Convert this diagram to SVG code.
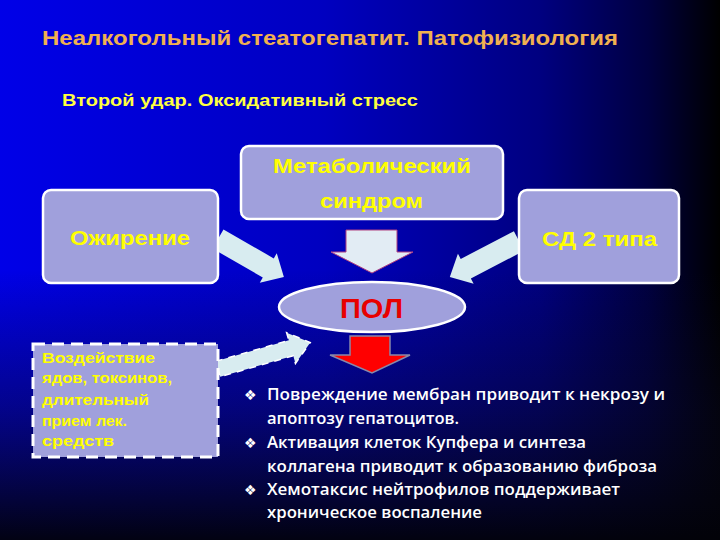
<svg xmlns="http://www.w3.org/2000/svg" width="720" height="540" viewBox="0 0 720 540">
  <defs>
    <linearGradient id="bgH" x1="0" y1="0" x2="1" y2="0">
      <stop offset="0" stop-color="#0000e8"/>
      <stop offset="0.45" stop-color="#0000c0"/>
      <stop offset="0.75" stop-color="#000080"/>
      <stop offset="0.9" stop-color="#000040"/>
      <stop offset="1" stop-color="#000000"/>
    </linearGradient>
    <linearGradient id="bgV" x1="0" y1="0" x2="0" y2="1">
      <stop offset="0" stop-color="#080820" stop-opacity="0"/>
      <stop offset="0.5" stop-color="#080820" stop-opacity="0"/>
      <stop offset="0.75" stop-color="#080820" stop-opacity="0.45"/>
      <stop offset="1" stop-color="#020208" stop-opacity="0.95"/>
    </linearGradient>
    <style>
      .box { fill: #a0a0dc; stroke: #ffffff; stroke-width: 2.5; }
      .lbl { font-family: "Liberation Sans", Arial, sans-serif; font-weight: bold; fill: #ffff00; }
      .arrow { fill: #d8ecf0; }
      .bul { font-family: "Open Sans", "Liberation Sans", sans-serif; font-weight: 600; font-size: 16px; fill: #ffffff; }
      .dia { font-family: "DejaVu Sans", sans-serif; font-size: 14px; fill: #ffffff; }
    </style>
  </defs>

  <rect x="0" y="0" width="720" height="540" fill="url(#bgH)"/>
  <rect x="0" y="0" width="720" height="540" fill="url(#bgV)"/>

  <text x="42" y="45" font-family="Liberation Sans, Arial, sans-serif" font-weight="bold" font-size="21" fill="#f0b050" textLength="576" lengthAdjust="spacingAndGlyphs">Неалкогольный стеатогепатит. Патофизиология</text>
  <text x="62" y="106" font-family="Liberation Sans, Arial, sans-serif" font-weight="bold" font-size="17" fill="#ffff40" textLength="356" lengthAdjust="spacingAndGlyphs">Второй удар. Оксидативный стресс</text>

  <g id="connectors">
    <polygon class="arrow" points="0,-11 58,-11 58,-17 76,0 58,17 58,11 0,11" transform="translate(218,239) rotate(29.9)"/>
    <polygon class="arrow" points="0,-11 60,-11 60,-17 78,0 60,17 60,11 0,11" transform="translate(519,241) rotate(152.5)"/>
    <polygon points="346,230 397,230 397,252 413,252 372,273 331,252 346,252" fill="#e2ecf4" stroke="#b04080" stroke-width="1"/>
    <polygon class="arrow" points="0,-8 76,-8 76,-16 96,0 76,16 76,8 0,8" transform="translate(218,369) rotate(-16)" stroke="#ffffff" stroke-width="1.5" stroke-dasharray="7 6"/>
    <polygon points="350,336 390,336 390,355 410,355 372,373 330,355 350,355" fill="#ff0000" stroke="#8888aa" stroke-width="1.5"/>
  </g>

  <g id="metabolic">
    <rect class="box" x="241" y="146" width="262" height="73" rx="8"/>
    <text class="lbl" x="273" y="173" font-size="20" textLength="198" lengthAdjust="spacingAndGlyphs">Метаболический</text>
    <text class="lbl" x="320" y="208" font-size="20" textLength="103" lengthAdjust="spacingAndGlyphs">синдром</text>
  </g>

  <g id="obesity">
    <rect class="box" x="43" y="190" width="175" height="93" rx="8"/>
    <text class="lbl" x="70" y="245" font-size="20" textLength="120" lengthAdjust="spacingAndGlyphs">Ожирение</text>
  </g>

  <g id="diabetes">
    <rect class="box" x="519" y="190" width="160" height="93" rx="8"/>
    <text class="lbl" x="542" y="246" font-size="20" textLength="115" lengthAdjust="spacingAndGlyphs">СД 2 типа</text>
  </g>

  <g id="pol">
    <ellipse class="box" cx="372" cy="307" rx="93" ry="25"/>
    <text x="340" y="318" font-family="Liberation Sans, Arial, sans-serif" font-weight="bold" font-size="28" fill="#e80000" textLength="63" lengthAdjust="spacingAndGlyphs">ПОЛ</text>
  </g>

  <g id="toxins">
    <rect x="33" y="344" width="185" height="113" fill="#a0a0dc" stroke="#ffffff" stroke-width="3" stroke-dasharray="12 7"/>
    <text class="lbl" x="42" y="363" font-size="15" textLength="113" lengthAdjust="spacingAndGlyphs">Воздействие</text>
    <text class="lbl" x="42" y="383" font-size="15" textLength="130" lengthAdjust="spacingAndGlyphs">ядов, токсинов,</text>
    <text class="lbl" x="42" y="405" font-size="15" textLength="107" lengthAdjust="spacingAndGlyphs">длительный</text>
    <text class="lbl" x="42" y="426" font-size="15" textLength="85" lengthAdjust="spacingAndGlyphs">прием лек.</text>
    <text class="lbl" x="42" y="446" font-size="15" textLength="72" lengthAdjust="spacingAndGlyphs">средств</text>
  </g>

  <g id="effects">
    <text class="dia" x="244" y="400">❖</text>
    <text class="bul" x="267" y="400" textLength="398" lengthAdjust="spacingAndGlyphs">Повреждение мембран приводит к некрозу и</text>
    <text class="bul" x="267" y="424" textLength="192" lengthAdjust="spacingAndGlyphs">апоптозу гепатоцитов.</text>
    <text class="dia" x="244" y="448">❖</text>
    <text class="bul" x="267" y="448" textLength="319" lengthAdjust="spacingAndGlyphs">Активация клеток Купфера и синтеза</text>
    <text class="bul" x="267" y="472" textLength="390" lengthAdjust="spacingAndGlyphs">коллагена приводит к образованию фиброза</text>
    <text class="dia" x="244" y="495">❖</text>
    <text class="bul" x="267" y="495" textLength="353" lengthAdjust="spacingAndGlyphs">Хемотаксис нейтрофилов поддерживает</text>
    <text class="bul" x="267" y="518" textLength="215" lengthAdjust="spacingAndGlyphs">хроническое воспаление</text>
  </g>
</svg>
